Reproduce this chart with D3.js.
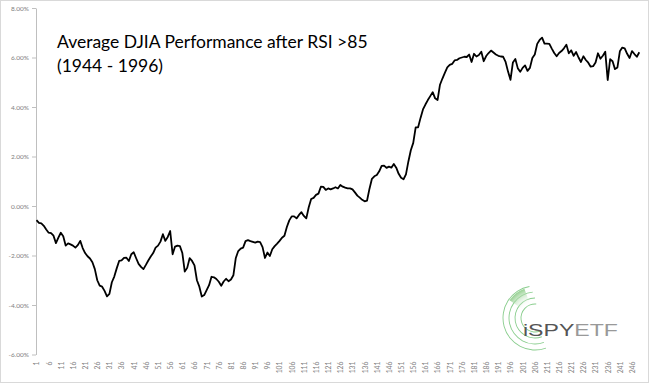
<!DOCTYPE html>
<html><head><meta charset="utf-8">
<script src="https://cdn.jsdelivr.net/npm/d3@7"></script>
<style>body{margin:0;background:#fff} svg{display:block}</style>
</head><body>
<script>
const titleLines = ["Average DJIA Performance after RSI >85", "(1944 - 1996)"];
const categories = d3.range(1, 250);
const values = [
-0.57,-0.68,-0.70,-0.80,-0.95,-1.08,-1.10,-1.20,-1.50,-1.28,
-1.08,-1.22,-1.60,-1.51,-1.55,-1.60,-1.68,-1.58,-1.41,-1.70,
-1.90,-2.03,-2.12,-2.27,-2.55,-3.00,-3.22,-3.26,-3.43,-3.65,
-3.55,-3.08,-2.85,-2.52,-2.22,-2.20,-2.10,-2.09,-2.22,-1.95,
-1.87,-2.11,-2.34,-2.46,-2.55,-2.38,-2.20,-2.04,-1.90,-1.68,
-1.60,-1.44,-1.14,-1.41,-1.25,-1.01,-1.95,-1.64,-1.60,-1.62,
-1.90,-2.65,-2.50,-2.11,-2.22,-2.40,-3.00,-3.26,-3.66,-3.60,
-3.40,-3.20,-2.86,-2.88,-2.95,-3.06,-3.22,-3.05,-2.94,-3.04,
-2.97,-2.80,-2.10,-1.82,-1.72,-1.68,-1.42,-1.38,-1.42,-1.45,
-1.48,-1.44,-1.46,-1.66,-2.10,-1.88,-2.02,-1.75,-1.62,-1.52,
-1.41,-1.28,-1.20,-0.85,-0.58,-0.42,-0.42,-0.50,-0.36,-0.25,
-0.40,-0.50,-0.05,0.28,0.33,0.45,0.50,0.78,0.77,0.65,
0.71,0.67,0.71,0.76,0.71,0.85,0.78,0.74,0.71,0.71,
0.67,0.55,0.42,0.34,0.25,0.19,0.22,0.70,1.10,1.20,
1.25,1.40,1.62,1.63,1.54,1.59,1.55,1.70,1.55,1.30,
1.14,1.08,1.28,1.80,2.25,2.55,3.18,3.18,3.56,3.90,
4.10,4.28,4.44,4.60,4.35,4.28,4.90,5.15,5.38,5.60,
5.70,5.74,5.88,5.90,5.97,6.00,6.03,6.02,6.12,5.82,
6.15,6.04,6.10,6.23,5.85,6.06,6.18,6.28,6.20,6.12,
6.07,6.04,6.03,5.82,5.43,5.10,5.80,5.94,5.57,5.42,
5.58,5.68,5.46,5.58,5.98,6.12,6.55,6.71,6.80,6.56,
6.56,6.55,6.36,6.18,6.05,6.18,6.26,6.37,6.52,6.17,
6.29,6.07,6.22,6.00,5.82,6.05,5.90,5.79,5.63,5.65,
5.80,6.17,5.95,6.07,6.23,5.09,5.93,5.85,5.53,5.60,
6.25,6.40,6.37,6.15,5.98,6.26,6.14,6.03,6.21
];
const yTicks = [-6, -4, -2, 0, 2, 4, 6, 8];
const xTickLabels = categories.filter(c => (c - 1) % 5 === 0);
const logoText = ["i", "SPY", "ETF"];

const W = 650, H = 384;
const svg = d3.select("body").append("svg").attr("width", W).attr("height", H);

svg.append("rect").attr("x", 0.5).attr("y", 0.5).attr("width", W - 2).attr("height", H - 2)
  .attr("fill", "#fff").attr("stroke", "#d9d9d9");

const x = d3.scalePoint().domain(categories).range([36.5, 639.3]);
const y = d3.scaleLinear().domain([-6, 8]).range([354.5, 8]);

// y axis
const yAxis = svg.append("g").attr("transform", "translate(36,0)")
  .call(d3.axisLeft(y).tickValues(yTicks).tickSizeInner(4).tickSizeOuter(0)
    .tickPadding(3).tickFormat(d => d.toFixed(2) + "%"));
yAxis.select(".domain").attr("stroke", "#bfbfbf");
yAxis.selectAll(".tick line").attr("stroke", "#bfbfbf");
yAxis.selectAll("text").attr("fill", "#808080").style("font-family", "Lato, 'Open Sans', sans-serif").style("font-size", "6.5px");

// x axis
const xAxis = svg.append("g").attr("transform", "translate(0,354.5)")
  .call(d3.axisBottom(x).tickValues(xTickLabels).tickSize(0));
xAxis.select(".domain").remove();
xAxis.selectAll("text")
  .attr("transform", "rotate(-90)")
  .attr("x", -7).attr("y", 0).attr("dy", "0.35em")
  .attr("text-anchor", "end")
  .attr("fill", "#808080")
  .style("font-family", "Lato, 'Open Sans', sans-serif").style("font-size", "6.8px");

// line
const line = d3.line().x((d, i) => x(categories[i])).y(d => y(d));
svg.append("path").datum(values).attr("d", line)
  .attr("fill", "none").attr("stroke", "#000").attr("stroke-width", 1.8)
  .attr("stroke-linejoin", "round");

// title
const title = svg.append("text").attr("x", 57).attr("y", 48)
  .style("font-family", "Lato, 'Open Sans', sans-serif").style("font-size", "17.5px").attr("fill", "#000");
titleLines.forEach((t, i) => title.append("tspan").attr("x", 57).attr("dy", i === 0 ? 0 : 24).text(t));

// logo
const logo = svg.append("g").attr("transform", "translate(535,318)");
const arc = d3.arc();
[14, 20, 26, 32].forEach((r, i) => {
  logo.append("path").attr("d", arc({innerRadius: r - 0.45, outerRadius: r + 0.45,
      startAngle: -200 * Math.PI / 180, endAngle: (5 - i * 5) * Math.PI / 180}))
    .attr("fill", "#6cc070").attr("opacity", 0.8);
});
const grad = svg.append("defs").append("radialGradient").attr("id", "wg")
  .attr("gradientUnits", "userSpaceOnUse").attr("cx", 0).attr("cy", 0).attr("r", 32);
grad.append("stop").attr("offset", "45%").attr("stop-color", "#ffffff").attr("stop-opacity", 0);
grad.append("stop").attr("offset", "100%").attr("stop-color", "#7cc576").attr("stop-opacity", 0.9);
logo.append("path").attr("d", arc({innerRadius: 14, outerRadius: 31,
    startAngle: -55 * Math.PI / 180, endAngle: -20 * Math.PI / 180}))
  .attr("fill", "url(#wg)");
const lt = svg.append("text").attr("x", 523).attr("y", 336)
  .attr("textLength", 95).attr("lengthAdjust", "spacingAndGlyphs")
  .style("font-family", "'Liberation Sans', Arial, sans-serif").style("font-size", "17px");
lt.append("tspan").attr("fill", "#555").text(logoText[0]);
lt.append("tspan").attr("fill", "#555").text(logoText[1]);
lt.append("tspan").attr("fill", "#999").text(logoText[2]);
</script>
</body></html>
